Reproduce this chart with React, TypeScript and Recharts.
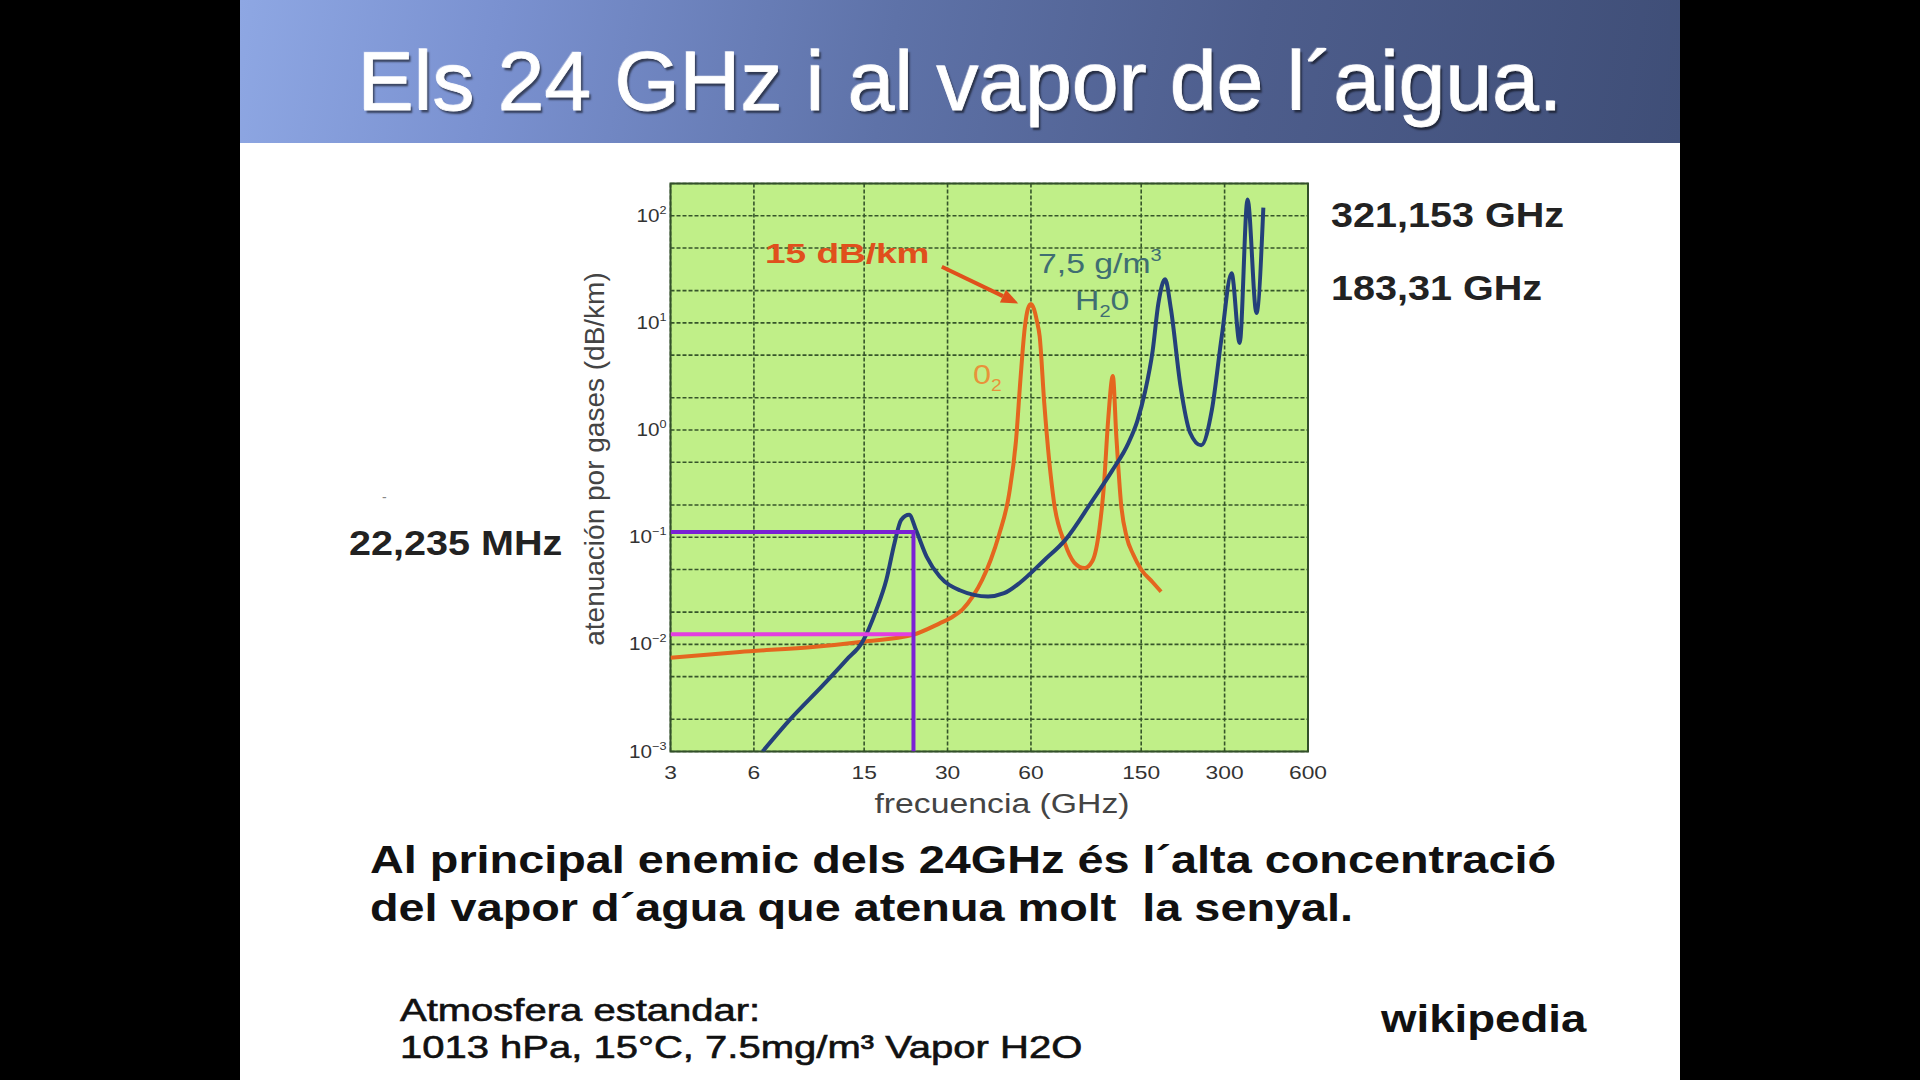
import React from 'react';
import { LineChart, Line, XAxis, YAxis, CartesianGrid, ReferenceArea, ReferenceLine } from 'recharts';

// ---------- data ----------
const xTicks = [3, 6, 15, 30, 60, 150, 300, 600];
const yGridValues = [0.001, 0.002, 0.005, 0.01, 0.02, 0.05, 0.1, 0.2, 0.5, 1, 2, 5, 10, 20, 50, 100, 200];

// water vapour (H2O, 7.5 g/m3) attenuation, dB/km
const h2oFreq = [6.45, 8.08, 10.7, 12.97, 14.8, 16.6, 18.04, 19.3, 20.4, 21.8, 23.1, 25.2, 28.1, 33.2, 42, 48, 55, 67, 80, 100, 118, 135, 145, 155, 165, 173, 183, 192, 208, 225, 247, 270, 293, 318, 340, 363, 391, 414];
const h2oAtt = [0.001, 0.00197, 0.0042, 0.0072, 0.0106, 0.021, 0.04, 0.088, 0.145, 0.162, 0.116, 0.066, 0.043, 0.032, 0.028, 0.03, 0.038, 0.061, 0.095, 0.22, 0.42, 0.76, 1.2, 2.3, 5.5, 15.2, 25.5, 13.5, 2.56, 0.95, 0.72, 1.55, 7.5, 29, 6.5, 142, 12.4, 119];

// oxygen (O2) attenuation, dB/km
const o2Freq = [3, 5.33, 10, 14.8, 22.5, 28.1, 31, 34, 37, 40, 43, 46, 50, 53, 55, 57, 58.5, 60, 61.5, 63, 64.5, 67, 72.7, 79.5, 86, 93.6, 100, 106, 110, 114, 118.5, 122, 127, 133, 140, 150, 165, 177];
const o2Att = [0.0075, 0.0085, 0.0095, 0.0106, 0.0123, 0.0157, 0.0178, 0.0212, 0.028, 0.04, 0.062, 0.105, 0.25, 0.8, 3, 9, 13.5, 15, 13.5, 10.5, 7.5, 1.8, 0.21, 0.088, 0.058, 0.0515, 0.06, 0.12, 0.3, 1.25, 3.2, 0.87, 0.2, 0.1, 0.07, 0.05, 0.038, 0.031];

// marker lines at ~22.235 GHz
const markerFreq = 22.6;
const markerH2O = 0.112;
const markerO2 = 0.0124;
const axisMinFreq = 3;
const axisMinAtt = 0.001;
const axisMaxFreq = 600;
const axisMaxAtt = 200;

// annotation arrow "15 dB/km" -> O2 peak (freq, att)
const arrowFrom = { x: 28.6, y: 33.4 };
const arrowTo = { x: 54.0, y: 15.2 };

const h2oData = h2oFreq.map((f, i) => ({ f, v: h2oAtt[i] }));
const o2Data = o2Freq.map((f, i) => ({ f, v: o2Att[i] }));
const purpleData = [
  { f: axisMinFreq, v: markerH2O },
  { f: markerFreq, v: markerH2O },
  { f: markerFreq, v: axisMinAtt },
];
const magentaData = [
  { f: axisMinFreq, v: markerO2 },
  { f: markerFreq, v: markerO2 },
];

const FONT = '"Liberation Sans", Arial, sans-serif';

const XTick = (props: any) => {
  const { x, y, payload } = props;
  return (
    <g transform={`translate(${x},${y + 27}) scale(1.2,1)`}>
      <text x={0} y={0} textAnchor="middle" fontSize={19} fill="#333" fontFamily={FONT}>
        {payload.value}
      </text>
    </g>
  );
};

const YTick = (props: any) => {
  const { x, y, payload } = props;
  const lg = Math.log10(payload.value);
  const e = Math.round(lg);
  if (Math.abs(lg - e) > 1e-6 || payload.value > 150) return <g />;
  return (
    <g transform={`translate(${x - 4},${y + 6}) scale(1.15,1)`}>
      <text x={0} y={0} textAnchor="end" fontSize={18} fill="#333" fontFamily={FONT}>
        10<tspan fontSize={11} dy={-8}>{e < 0 ? '\u2212' + Math.abs(e) : String(e)}</tspan>
      </text>
    </g>
  );
};

const ArrowShape = (p: any) => {
  const { x1, y1, x2, y2 } = p;
  const ang = Math.atan2(y2 - y1, x2 - x1);
  const L = 17;
  const W = 7;
  const bx = x2 - L * Math.cos(ang);
  const by = y2 - L * Math.sin(ang);
  const px = -Math.sin(ang) * W;
  const py = Math.cos(ang) * W;
  return (
    <g>
      <line x1={x1} y1={y1} x2={bx} y2={by} stroke="#e0501c" strokeWidth={4} />
      <polygon points={`${x2},${y2} ${bx + px},${by + py} ${bx - px},${by - py}`} fill="#e0501c" />
    </g>
  );
};

const abs = (left: number, top: number, extra: React.CSSProperties = {}): React.CSSProperties => ({
  position: 'absolute',
  left,
  top,
  lineHeight: 1,
  whiteSpace: 'nowrap',
  fontFamily: FONT,
  ...extra,
});

export default function App() {
  return (
    <div style={{ position: 'fixed', left: 0, top: 0, width: 1920, height: 1080, background: '#000', overflow: 'hidden' }}>
      <div style={{ position: 'absolute', left: 240, top: 0, width: 1440, height: 1080, background: '#fff' }} />
      <div
        style={{
          position: 'absolute',
          left: 240,
          top: 0,
          width: 1440,
          height: 143,
          background: 'linear-gradient(100deg, #8ea7e3 0%, #7a91d0 18%, #5e72a8 45%, #4d5d8c 70%, #3f4e77 100%)',
        }}
      />
      <div
        style={abs(240, 39, {
          width: 1440,
          textAlign: 'center',
          fontSize: 84,
          color: '#ffffff',
          WebkitTextStroke: '0.8px #ffffff',
          textShadow: '2px 3px 2px rgba(0,0,0,0.55), -1px -1px 0 rgba(255,255,255,0.4)',
        } as any)}
      >
        Els 24 GHz i al vapor de l´aigua.
      </div>

      <div style={{ position: 'absolute', left: 0, top: 0 }}>
        <LineChart width={1920} height={1080} margin={{ top: 183.5, right: 612, bottom: 288.5, left: 610.5 }}>
          <CartesianGrid
            fill="#c0ef88"
            fillOpacity={1}
            stroke="#36552a"
            strokeDasharray="4 2"
            strokeWidth={1.6}
          />
          <XAxis
            dataKey="f"
            type="number"
            scale="log"
            domain={[axisMinFreq, axisMaxFreq]}
            ticks={xTicks}
            interval={0}
            allowDataOverflow
            axisLine={false}
            tickLine={false}
            tickSize={0}
            tickMargin={0}
            height={40}
            tick={<XTick />}
          />
          <YAxis
            dataKey="v"
            type="number"
            scale="log"
            domain={[axisMinAtt, axisMaxAtt]}
            ticks={yGridValues}
            interval={0}
            allowDataOverflow
            axisLine={false}
            tickLine={false}
            tickSize={0}
            tickMargin={0}
            width={60}
            tick={<YTick />}
          />
          <ReferenceArea
            x1={axisMinFreq}
            x2={axisMaxFreq}
            y1={axisMinAtt}
            y2={axisMaxAtt}
            fill="none"
            stroke="#33502a"
            strokeWidth={2}
            ifOverflow="visible"
          />
          <Line data={o2Data} dataKey="v" type="monotone" stroke="#e4661f" strokeWidth={4} dot={false} isAnimationActive={false} />
          <Line data={h2oData} dataKey="v" type="monotone" stroke="#24407a" strokeWidth={4} dot={false} isAnimationActive={false} />
          <Line data={magentaData} dataKey="v" type="linear" stroke="#e23ee0" strokeWidth={4} dot={false} isAnimationActive={false} />
          <Line data={purpleData} dataKey="v" type="linear" stroke="#7a22d4" strokeWidth={4} dot={false} isAnimationActive={false} />
          <ReferenceLine segment={[arrowFrom, arrowTo]} shape={ArrowShape} ifOverflow="visible" />
        </LineChart>
      </div>

      {/* in-plot annotations */}
      <div style={abs(765, 241, { fontSize: 27, fontWeight: 'bold', color: '#e0501c', transform: 'scaleX(1.37)', transformOrigin: 'left center' })}>
        15 dB/km
      </div>
      <div style={abs(1038, 251, { fontSize: 27, color: '#3f6e72', transform: 'scaleX(1.25)', transformOrigin: 'left center' })}>
        7,5 g/m<sup style={{ fontSize: 16, verticalAlign: 'top', position: 'relative', top: -3 }}>3</sup>
      </div>
      <div style={abs(1075, 288, { fontSize: 27, color: '#3f6e72', transform: 'scaleX(1.25)', transformOrigin: 'left center' })}>
        H<sub style={{ fontSize: 16, verticalAlign: 'baseline', position: 'relative', top: 7 }}>2</sub>0
      </div>
      <div style={abs(973, 362, { fontSize: 27, color: '#e8923a', transform: 'scaleX(1.2)', transformOrigin: 'left center' })}>
        0<sub style={{ fontSize: 16, verticalAlign: 'baseline', position: 'relative', top: 7 }}>2</sub>
      </div>

      {/* axis titles */}
      <div
        style={abs(595, 459, {
          fontSize: 28,
          color: '#444',
          transform: 'translate(-50%, -50%) rotate(-90deg)',
          transformOrigin: 'center center',
        })}
      >
        atenuación por gases (dB/km)
      </div>
      <div style={abs(1002, 791, { fontSize: 27, color: '#444', transform: 'translateX(-50%) scaleX(1.25)', transformOrigin: 'center center' })}>
        frecuencia (GHz)
      </div>

      {/* side labels */}
      <div style={abs(1331, 197, { fontSize: 35, fontWeight: 'bold', color: '#222', transform: 'scaleX(1.13)', transformOrigin: 'left center' })}>
        321,153 GHz
      </div>
      <div style={abs(1331, 270, { fontSize: 35, fontWeight: 'bold', color: '#222', transform: 'scaleX(1.13)', transformOrigin: 'left center' })}>
        183,31 GHz
      </div>
      <div style={abs(349, 525, { fontSize: 35, fontWeight: 'bold', color: '#222', transform: 'scaleX(1.13)', transformOrigin: 'left center' })}>
        22,235 MHz
      </div>
      <div style={abs(382, 490, { fontSize: 14, color: '#888' })}>-</div>

      {/* bottom texts */}
      <div style={abs(370, 840, { fontSize: 39, fontWeight: 'bold', color: '#111', transform: 'scaleX(1.2)', transformOrigin: 'left center' })}>
        Al principal enemic dels 24GHz és l´alta concentració
      </div>
      <div style={abs(370, 888, { fontSize: 39, fontWeight: 'bold', color: '#111', transform: 'scaleX(1.2)', transformOrigin: 'left center' })}>
        del vapor d´agua que atenua molt&nbsp; la senyal.
      </div>
      <div style={abs(400, 994, { fontSize: 32, color: '#111', WebkitTextStroke: '0.6px #111', transform: 'scaleX(1.25)', transformOrigin: 'left center' } as any)}>
        Atmosfera estandar:
      </div>
      <div style={abs(400, 1031, { fontSize: 32, color: '#111', WebkitTextStroke: '0.6px #111', transform: 'scaleX(1.25)', transformOrigin: 'left center' } as any)}>
        1013 hPa, 15°C, 7.5mg/m³ Vapor H2O
      </div>
      <div style={abs(1381, 1000, { fontSize: 38, fontWeight: 'bold', color: '#111', transform: 'scaleX(1.2)', transformOrigin: 'left center' })}>
        wikipedia
      </div>
    </div>
  );
}
